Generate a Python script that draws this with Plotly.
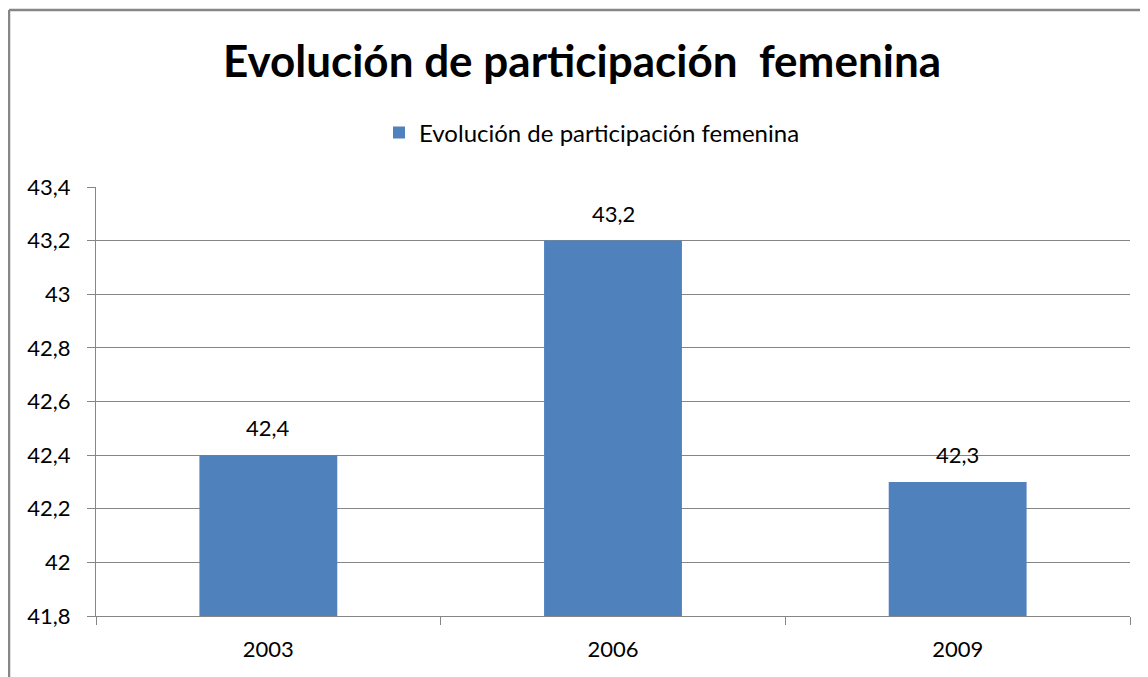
import plotly.graph_objects as go

years = ["2003", "2006", "2009"]
values = [42.4, 43.2, 42.3]
series_name = "Evolución de participación femenina"
title_text = "Evolución de participación  femenina"

FONT = "Lato, Open Sans, sans-serif"
OFF = 8  # page body margin
W, H = 1148 - OFF, 677 - OFF
L, R, T, B = 96 - OFF, 18, 187 - OFF, 61
pw, ph = W - L - R, H - T - B

def px_x(px):
    return (px - OFF - L) / pw

def px_y(py):
    return (H - B - (py - OFF)) / ph

fig = go.Figure()
fig.add_trace(go.Bar(
    x=years, y=values, name=series_name,
    marker=dict(color="#4F81BD", line=dict(width=0)),
    showlegend=True,
))

# data labels: category index on the category axis
for i, v in enumerate(values):
    fig.add_annotation(x=i, y=v, xref="x", yref="y",
                       text=f"{v:.1f}".replace(".", ","),
                       showarrow=False, yanchor="bottom", yshift=12,
                       font=dict(family=FONT, size=22, color="#000000"))

fig.update_layout(
    width=W, height=H,
    margin=dict(l=L, r=R, t=T, b=B),
    paper_bgcolor="white", plot_bgcolor="white",
    separators=", ",
    bargap=0.6,
    font=dict(family=FONT, size=22, color="#000000"),
    title=dict(text="<b>" + title_text + "</b>", x=(582 - OFF) / W, xanchor="center",
               y=1 - (62 - OFF) / H, yanchor="middle",
               font=dict(family=FONT, size=44, color="#000000")),
    legend=dict(orientation="h", x=px_x(592), xanchor="center",
                y=px_y(133), yanchor="middle",
                font=dict(family=FONT, size=24, color="#000000"),
                itemsizing="constant"),
    xaxis=dict(type="category", categoryorder="array", categoryarray=years,
               showline=True, linecolor="#868686", linewidth=1,
               ticks="outside", tickson="boundaries", ticklen=8, tickcolor="#868686",
               ticklabelstandoff=14, tickangle=0,
               showgrid=False, tickfont=dict(family=FONT, size=22)),
    yaxis=dict(range=[41.8, 43.4], dtick=0.2, tick0=41.8,
               showline=True, linecolor="#868686", linewidth=1,
               ticks="outside", ticklen=8, tickcolor="#868686",
               ticklabelstandoff=12,
               showgrid=True, gridcolor="#868686", gridwidth=1,
               zeroline=False, tickfont=dict(family=FONT, size=22)),
    shapes=[
        dict(type="line", xref="paper", yref="paper",
             x0=px_x(9), x1=px_x(1148 + 5), y0=px_y(10), y1=px_y(10),
             line=dict(color="#868686", width=2.5)),
        dict(type="line", xref="paper", yref="paper",
             x0=px_x(9), x1=px_x(9), y0=px_y(10), y1=px_y(677 + 5),
             line=dict(color="#868686", width=2.5)),
    ],
)

fig.write_html("out.html")
